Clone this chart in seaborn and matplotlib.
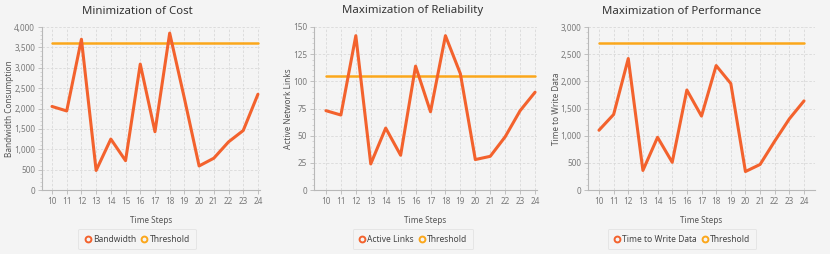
import matplotlib
matplotlib.use("Agg")
import matplotlib.pyplot as plt
import seaborn as sns
import pandas as pd
from matplotlib.lines import Line2D
from matplotlib.ticker import MultipleLocator, AutoMinorLocator, FuncFormatter

# data
steps = list(range(10, 25))
bandwidth = [2050, 1940, 3700, 480, 1250, 720, 3090, 1430, 3850, 2250, 590, 780, 1180, 1460, 2350]
bandwidth_threshold = 3600
active_links = [73, 69, 142, 24, 57, 32, 114, 72, 142, 107, 28, 31, 49, 73, 90]
links_threshold = 105
write_time = [1100, 1390, 2420, 360, 970, 510, 1840, 1360, 2290, 1960, 340, 470, 900, 1310, 1640]
write_threshold = 2700

BG = "#f4f4f4"
C_SERIES = "#f3622d"
C_THRESH = "#fba71b"

sns.set_style("white", {"axes.facecolor": BG, "figure.facecolor": BG})
plt.rcParams["font.family"] = ["Noto Sans", "DejaVu Sans"]

W, H = 830, 254
fig = plt.figure(figsize=(W / 100, H / 100), dpi=100)
fig.patch.set_facecolor(BG)


def px_axes(left, right, top, bottom):
    return fig.add_axes([left / W, 1 - bottom / H, (right - left) / W, (bottom - top) / H])


charts = [
    dict(title="Minimization of Cost", ylabel="Bandwidth Consumption", series="Bandwidth",
         values=bandwidth, thr=bandwidth_threshold, ymax=4000, step=500,
         box=(42, 260, 27, 190), xlim=(9.32, 24.14), center=137, ylab_x=10),
    dict(title="Maximization of Reliability", ylabel="Active Network Links", series="Active Links",
         values=active_links, thr=links_threshold, ymax=150, step=25,
         box=(314, 537, 27, 190), xlim=(9.2, 24.13), center=413, ylab_x=288),
    dict(title="Maximization of Performance", ylabel="Time to Write Data", series="Time to Write Data",
         values=write_time, thr=write_threshold, ymax=3000, step=500,
         box=(588, 815, 27, 190), xlim=(9.25, 24.75), center=682, ylab_x=556),
]

for c in charts:
    ax = px_axes(*c["box"])
    df = pd.DataFrame({"step": steps, "value": c["values"], "thr": [c["thr"]] * len(steps)})
    sns.lineplot(data=df, x="step", y="thr", ax=ax, color=C_THRESH, linewidth=1.8, zorder=3)
    sns.lineplot(data=df, x="step", y="value", ax=ax, color=C_SERIES, linewidth=2.2, zorder=4)
    ax.set_xlim(*c["xlim"])
    ax.set_ylim(0, c["ymax"])
    ax.set_xticks(steps)
    ax.yaxis.set_major_locator(MultipleLocator(c["step"]))
    ax.yaxis.set_minor_locator(AutoMinorLocator(5))
    ax.yaxis.set_major_formatter(FuncFormatter(lambda v, p: f"{int(v):,}"))
    ax.grid(True, which="major", linestyle=(0, (3, 2)), color="#d9d9d9", linewidth=0.6)
    ax.set_axisbelow(True)
    for s in ["top", "right"]:
        ax.spines[s].set_visible(False)
    for s in ["left", "bottom"]:
        ax.spines[s].set_color("#b8b8b8")
        ax.spines[s].set_linewidth(0.8)
    ax.tick_params(axis="both", which="major", labelsize=5.9, labelcolor="#7a7a7a",
                   color="#b8b8b8", length=3, width=0.6, pad=2, left=True, bottom=True)
    ax.tick_params(axis="y", which="minor", color="#c8c8c8", length=1.8, width=0.5, left=True)
    ax.set_xlabel("Time Steps", fontsize=5.9, color="#555555", labelpad=7)
    ax.set_ylabel("")
    fig.text(c["ylab_x"] / W, 1 - 109 / H, c["ylabel"], rotation=90, fontsize=5.9,
             color="#555555", ha="center", va="center")
    fig.text(c["center"] / W, 1 - 11 / H, c["title"], fontsize=8.2, color="#333333",
             ha="center", va="center")
    handles = [
        Line2D([], [], linestyle="none", marker="o", markersize=4.2, markerfacecolor=BG,
               markeredgecolor=C_SERIES, markeredgewidth=1.4, label=c["series"]),
        Line2D([], [], linestyle="none", marker="o", markersize=4.2, markerfacecolor=BG,
               markeredgecolor=C_THRESH, markeredgewidth=1.4, label="Threshold"),
    ]
    leg = fig.legend(handles=handles, loc="center", bbox_to_anchor=(c["center"] / W, 1 - 239 / H),
                     ncol=2, fontsize=6.1, frameon=True, fancybox=True, handletextpad=0.25,
                     columnspacing=0.5, borderpad=0.7, handlelength=0.8)
    leg.get_frame().set_facecolor(BG)
    leg.get_frame().set_edgecolor("#dedede")
    leg.get_frame().set_linewidth(0.6)
    for t in leg.get_texts():
        t.set_color("#444444")

fig.savefig("out.png", dpi=100, facecolor=BG)
